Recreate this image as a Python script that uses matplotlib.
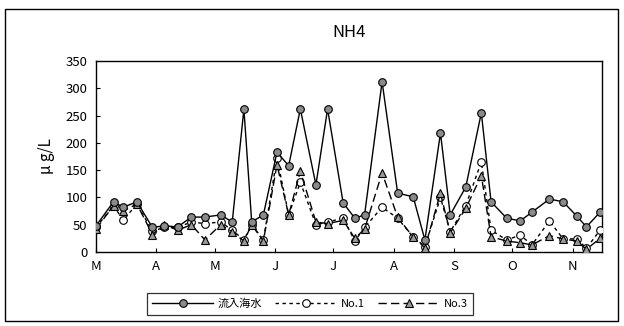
import matplotlib
matplotlib.use("Agg")
import matplotlib.pyplot as plt
import matplotlib.dates as mdates
from matplotlib.patches import Rectangle
import numpy as np

plt.rcParams['font.family'] = ['Noto Sans CJK JP', 'DejaVu Sans']

# sampling dates (weekly survey, one season)
dates = ["03-01", "03-10", "03-15", "03-22", "03-30", "04-05", "04-12", "04-19",
         "04-26", "05-04", "05-10", "05-16", "05-20", "05-26", "06-02", "06-08",
         "06-14", "06-22", "06-28", "07-06", "07-12", "07-17", "07-26", "08-03",
         "08-11", "08-17", "08-25", "08-30", "09-07", "09-15", "09-20", "09-28",
         "10-05", "10-11", "10-20", "10-27", "11-03", "11-08", "11-15"]

# NH4 concentration (μg/L)
inflow = [48, 92, 82, 92, 45, 48, 46, 64, 64, 68, 55, 262, 55, 68, 183, 158,
          262, 123, 262, 90, 62, 68, 312, 108, 101, 22, 218, 68, 119, 255, 92, 62,
          57, 73, 97, 92, 66, 46, 73]
no1 = [45, 85, 58, 88, 38, 45, 45, 55, 52, 55, 40, 22, 50, 22, 172, 68,
       128, 50, 55, 62, 20, 45, 82, 62, 27, 10, 100, 37, 85, 165, 40, 22,
       31, 13, 57, 24, 24, 7, 40]
no3 = [42, 85, 75, 88, 32, 50, 40, 50, 22, 50, 37, 20, 50, 20, 160, 68,
       148, 55, 52, 58, 25, 42, 145, 64, 27, 8, 108, 35, 80, 140, 28, 20,
       17, 13, 30, 24, 20, 5, 25]

series_labels = ["流入海水", "No.1", "No.3"]
month_labels = ["M", "A", "M", "J", "J", "A", "S", "O", "N"]
y_ticks = [0, 50, 100, 150, 200, 250, 300, 350]

year = 2001
x = [np.datetime64(f"{year}-{d}") for d in dates]
x = mdates.date2num(np.array(x, dtype="datetime64[D]").astype("O"))

fig = plt.figure(figsize=(6.24, 3.26), dpi=100)
ax = fig.add_axes([96 / 624, 1 - 252 / 326, (602 - 96) / 624, (252 - 61) / 326])

ax.plot(x, inflow, color="black", lw=1.0, ls="-", marker="o", ms=5.5,
        mfc="#8a8a8a", mec="black", mew=0.8, label=series_labels[0], zorder=4)
ax.plot(x, no1, color="black", lw=1.0, ls=(0, (2.5, 2.5)), marker="o", ms=5.5,
        mfc="white", mec="black", mew=0.8, label=series_labels[1], zorder=3)
ax.plot(x, no3, color="black", lw=1.0, ls=(0, (6, 3)), marker="^", ms=5.5,
        mfc="#9a9a9a", mec="black", mew=0.8, label=series_labels[2], zorder=3)

month_starts = [mdates.date2num(np.datetime64(f"{year}-{m:02d}-01").astype("O"))
                for m in range(3, 12)]
ax.set_xticks(month_starts)
ax.set_xticklabels(month_labels, fontsize=9.5)
ax.set_xlim(month_starts[0], mdates.date2num(np.datetime64(f"{year}-11-16").astype("O")))

ax.set_ylim(0, 350)
ax.set_yticks(y_ticks)
ax.set_yticklabels([str(v) for v in y_ticks], fontsize=9.5)
ax.tick_params(axis="both", direction="in", length=3, width=0.8, pad=6)
for s in ax.spines.values():
    s.set_linewidth(1.0)

ax.set_ylabel("μ g/L", fontsize=11, labelpad=8)
ax.set_title("NH4", fontsize=12, pad=17)

leg = fig.legend(loc="center", bbox_to_anchor=(310 / 624, 1 - 304 / 326),
                 ncol=3, handlelength=5.5, frameon=True, fancybox=False,
                 edgecolor="black", fontsize=8, borderpad=0.5,
                 columnspacing=1.2, handletextpad=0.4)
leg.get_frame().set_linewidth(0.9)

# outer chart border
fig.add_artist(Rectangle((5 / 624, 1 - 321 / 326), 613 / 624, 312 / 326,
                         transform=fig.transFigure, fill=False,
                         edgecolor="black", lw=1.0))

fig.savefig("out.png", dpi=100)
